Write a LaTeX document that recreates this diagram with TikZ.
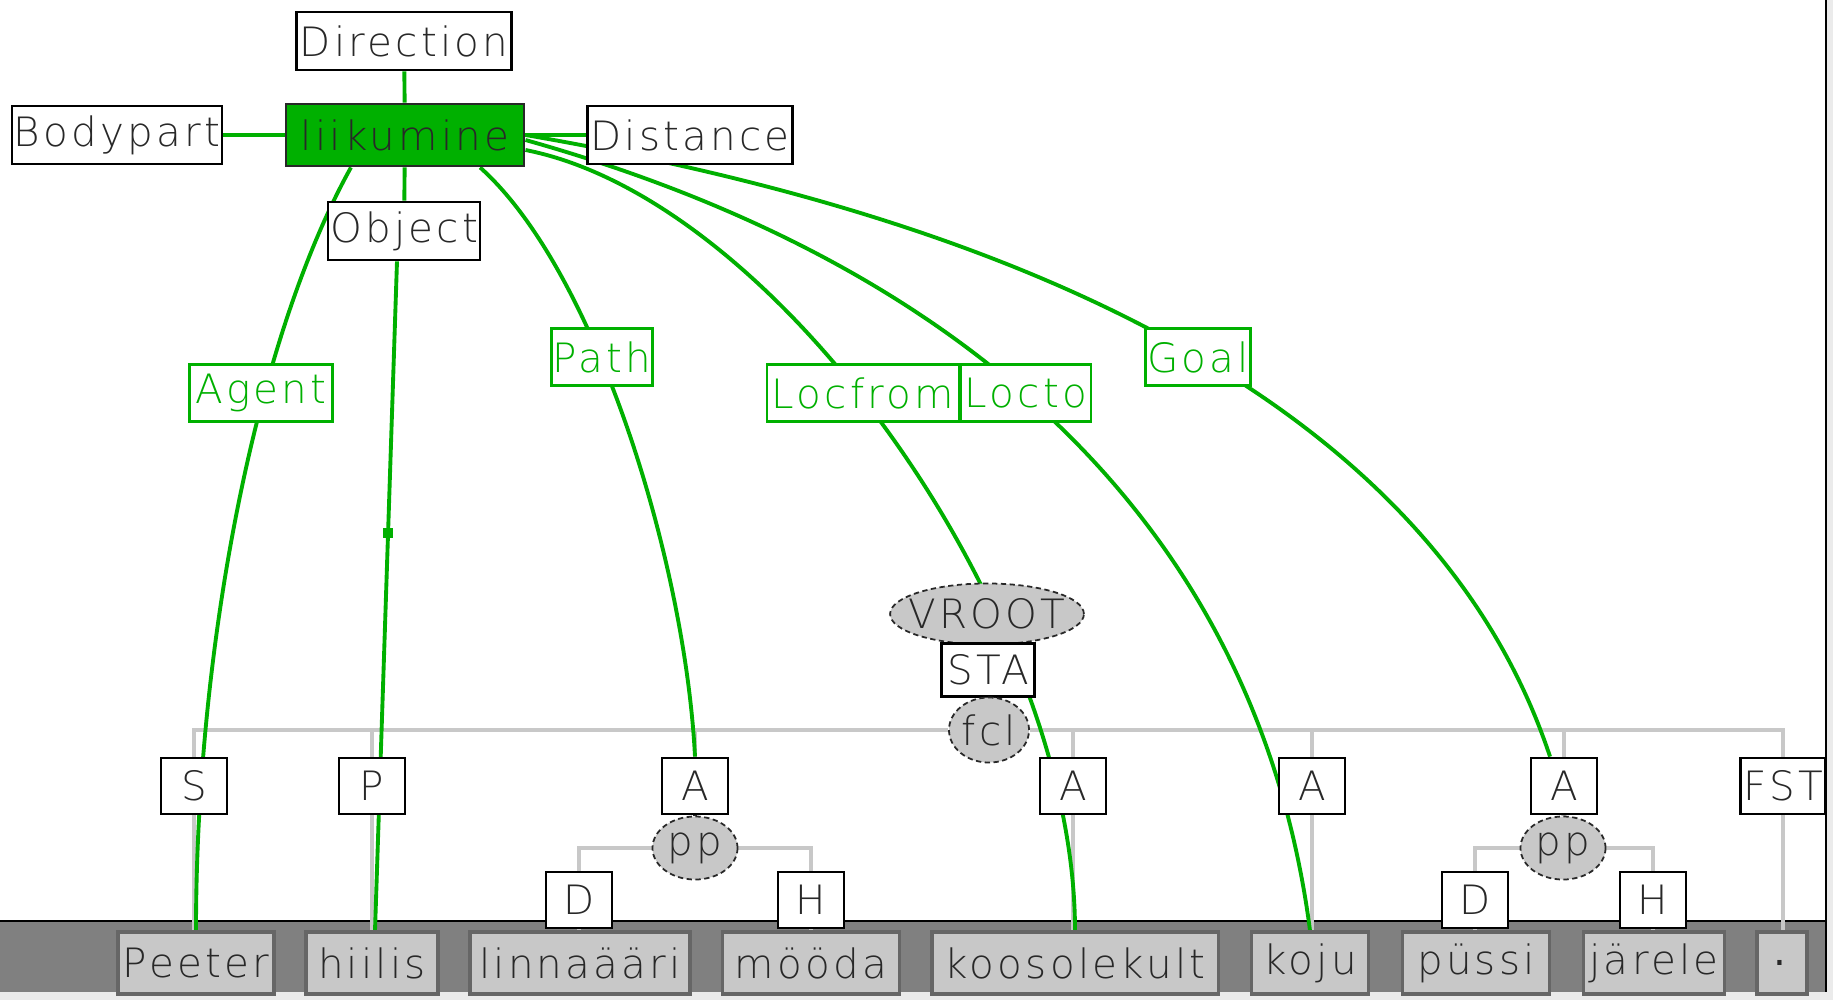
\documentclass[tikz,border=0pt]{standalone}
\usepackage{fontspec}
\setmainfont{DejaVu Sans ExtraLight}[LetterSpace=8]
\usetikzlibrary{shapes.geometric,backgrounds}
\definecolor{framegreen}{RGB}{0,176,0}
\definecolor{boxgray}{RGB}{200,200,200}
\definecolor{bandgray}{RGB}{128,128,128}
\definecolor{inkgray}{RGB}{40,40,40}

\begin{document}
\begin{tikzpicture}[x=0.01cm, y=-0.01cm, font=\fontsize{11.5}{13}\selectfont,
    every node/.style={inner sep=0pt, text=inkgray},
    role/.style={draw=black, line width=0.8pt, fill=white, minimum height=0.58cm},
    head/.style={role, fill=framegreen, draw=inkgray},
    frame/.style={draw=framegreen, text=framegreen, line width=0.8pt, fill=white, minimum height=0.57cm},
    tag/.style={draw=black, line width=0.8pt, fill=white, minimum width=0.66cm, minimum height=0.56cm},
    cat/.style={ellipse, draw=inkgray, dash pattern=on 1.5pt off 1pt, line width=0.5pt, fill=boxgray, inner xsep=-0.1cm},
    word/.style={draw=black!60, line width=0.9pt, fill=boxgray, minimum height=0.62cm},
    link/.style={framegreen, line width=1.1pt},
    tree/.style={boxgray, line width=1.1pt}]
    \useasboundingbox (0,0) rectangle (1833,1000);

    % frame roles
    \node[head, minimum width=2.38cm, minimum height=0.62cm] (liikumine) at (405,135) {liikumine};
    \node[role, minimum width=2.15cm] (Direction) at (404,41) {Direction};
    \node[role, minimum width=2.10cm] (Bodypart) at (117,135) {Bodypart};
    \node[role, minimum width=2.05cm] (Distance) at (690,135) {Distance};
    \node[role, minimum width=1.52cm] (Object) at (404,231) {Object};
    \node[frame, minimum width=1.43cm] (Agent) at (261,393) {Agent};
    \node[frame, minimum width=1.01cm] (Path) at (602,357) {Path};
    \node[frame, minimum width=1.92cm] (Locfrom) at (863,393) {Locfrom};
    \node[frame, minimum width=1.30cm] (Locto) at (1026,393) {Locto};
    \node[frame, minimum width=1.05cm] (Goal) at (1198,357) {Goal};

    % syntax tree
    \node[cat, minimum width=1.88cm, minimum height=0.61cm] (VROOT) at (987,614) {VROOT};
    \node[tag, minimum width=0.93cm, minimum height=0.53cm] (STA) at (988,670) {STA};
    \node[cat, minimum width=0.80cm, minimum height=0.65cm] (fcl) at (989,730) {fcl};
    \node[tag] (S) at (194,786) {S};
    \node[tag] (P) at (372,786) {P};
    \node[tag] (A1) at (695,786) {A};
    \node[tag] (A2) at (1073,786) {A};
    \node[tag] (A3) at (1312,786) {A};
    \node[tag] (A4) at (1564,786) {A};
    \node[tag, minimum width=0.85cm] (FST) at (1783,786) {FST};
    \node[cat, minimum width=0.85cm, minimum height=0.63cm] (pp1) at (695,848) {pp};
    \node[cat, minimum width=0.85cm, minimum height=0.63cm] (pp2) at (1563,848) {pp};
    \node[tag] (D1) at (579,900) {D};
    \node[tag] (H1) at (811,900) {H};
    \node[tag] (D2) at (1475,900) {D};
    \node[tag] (H2) at (1653,900) {H};

    % words
    \node[word, minimum width=1.56cm] (Peeter) at (196,963) {Peeter};
    \node[word, minimum width=1.32cm] (hiilis) at (372,963) {hiilis};
    \node[word, minimum width=2.20cm] (linnaaari) at (580,963) {linnaääri};
    \node[word, minimum width=1.77cm] (mooda) at (811,963) {mööda};
    \node[word, minimum width=2.86cm] (koosolekult) at (1075,963) {koosolekult};
    \node[word, minimum width=1.17cm] (koju) at (1310,963) {koju};
    \node[word, minimum width=1.47cm] (pussi) at (1476,963) {püssi};
    \node[word, minimum width=1.41cm] (jarele) at (1654,963) {järele};
    \node[word, minimum width=0.50cm] (stop) at (1782,963) {\textbf{.}};

    \begin{scope}[on background layer]
      \fill[black!8] (0,0) rectangle (1833,1000);
      \fill[white] (0,0) rectangle (1826,992);
      \fill[bandgray] (0,921) rectangle (1826,992);
      \draw[black, line width=0.6pt] (0,921) -- (1826,921);
      \draw[black, line width=0.6pt] (1826,0) -- (1826,992);

      % tree edges
      \draw[inkgray, line width=1.2pt] (VROOT) -- (STA);
      \draw[inkgray, line width=1.2pt] (STA) -- (fcl);
      \draw[tree] (fcl) -| (S);
      \draw[tree] (fcl) -| (P);
      \draw[tree] (fcl) -| (A1);
      \draw[tree] (fcl) -| (A2);
      \draw[tree] (fcl) -| (A3);
      \draw[tree] (fcl) -| (A4);
      \draw[tree] (fcl) -| (FST);
      \draw[inkgray, line width=1.2pt] (A1) -- (pp1);
      \draw[inkgray, line width=1.2pt] (A4) -- (pp2);
      \draw[tree] (pp1) -| (D1);
      \draw[tree] (pp1) -| (H1);
      \draw[tree] (pp2) -| (D2);
      \draw[tree] (pp2) -| (H2);
      \draw[tree] (S) -- (S |- Peeter);
      \draw[tree] (P) -- (P |- hiilis);
      \draw[tree] (D1) -- (D1 |- linnaaari);
      \draw[tree] (H1) -- (H1 |- mooda);
      \draw[tree] (A2) -- (A2 |- koosolekult);
      \draw[tree] (A3) -- (A3 |- koju);
      \draw[tree] (D2) -- (D2 |- pussi);
      \draw[tree] (H2) -- (H2 |- jarele);
      \draw[tree] (FST) -- (FST |- stop);

      % frame links
      \draw[link] (liikumine) -- (Direction);
      \draw[link] (liikumine) -- (Bodypart);
      \draw[link] (liikumine) -- (Distance);
      \draw[link] (liikumine) -- (Object);
      \draw[link] ([xshift=-0.07cm]Object.south) -- ([xshift=0.03cm]hiilis.north)
        node[pos=0.406, fill=framegreen, minimum size=0.1cm] (objdot) {};
      \draw[link] ([xshift=-0.54cm]liikumine.south) .. controls (255,340) and (196,650) .. (Peeter.north);
      \draw[link] ([xshift=0.75cm]liikumine.south) .. controls (595,270) and (685,560) .. (A1.north);
      \draw[link] ([yshift=-0.15cm]liikumine.east) .. controls (780,200) and (1075,620) .. (koosolekult.north);
      \draw[link] ([yshift=-0.05cm]liikumine.east) .. controls (974,266) and (1258,532) .. (koju.north);
      \draw[link] (liikumine.east) .. controls (1124,238) and (1451,458) .. ([xshift=-0.14cm]A4.north);
    \end{scope}
  \end{tikzpicture}
\end{document}
